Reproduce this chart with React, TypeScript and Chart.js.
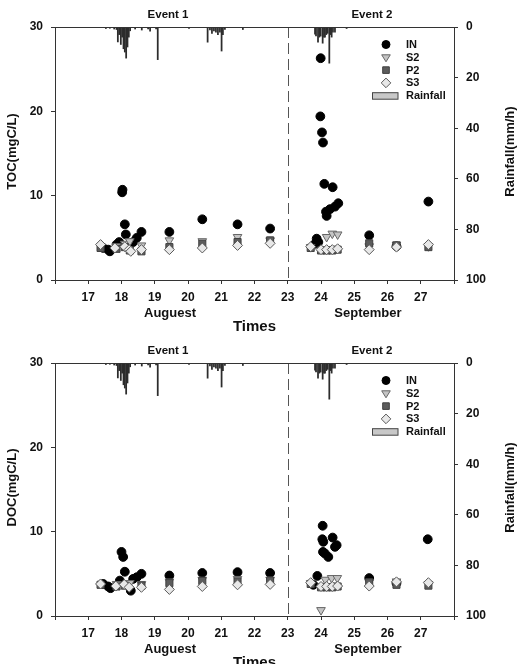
import React, { useEffect, useRef } from 'react';
import { Chart, registerables } from 'chart.js';
Chart.register(...registerables);

const FONT = '"Liberation Sans", Arial, Helvetica, sans-serif';

// Rainfall hyetograph (day, mm/h)
const rainTimes = [17.53, 17.65, 17.78, 17.85, 17.89, 17.93, 17.98, 18.02, 18.06, 18.1, 18.14, 18.18, 18.22, 18.26, 18.41, 18.61, 18.8, 18.86, 19.04, 19.09, 20.03, 20.59, 20.66, 20.72, 20.78, 20.84, 20.9, 20.96, 21.01, 21.05, 21.11, 21.65, 23.82, 23.85, 23.91, 23.95, 23.99, 24.05, 24.09, 24.12, 24.16, 24.2, 24.25, 24.29, 24.32, 24.36, 24.42, 24.77];
const rainValues = [0.6, 0.5, 0.8, 1.0, 5.9, 3.0, 6.9, 4.0, 8.6, 9.9, 12.3, 7.9, 4.0, 1.5, 0.8, 1.2, 0.8, 1.6, 0.8, 12.9, 0.6, 6.0, 1.2, 2.5, 1.5, 2.0, 3.0, 2.0, 9.5, 3.0, 1.0, 1.0, 2.8, 3.5, 6.0, 4.0, 3.6, 6.4, 4.0, 4.0, 3.0, 2.5, 14.3, 3.0, 4.0, 2.0, 2.0, 0.6];

// TOC panel
const tocInT = [17.45, 17.6, 17.65, 17.85, 17.93, 18.03, 18.02, 18.1, 18.13, 18.35, 18.46, 18.6, 19.44, 20.43, 21.49, 22.47, 23.82, 23.87, 23.92, 23.99, 23.98, 24.03, 24.06, 24.1, 24.35, 24.15, 24.17, 24.27, 24.42, 24.52, 25.45, 26.27, 27.23];
const tocInV = [3.8, 3.6, 3.4, 4.2, 4.5, 10.7, 10.4, 6.6, 5.4, 4.5, 5.0, 5.7, 5.7, 7.2, 6.6, 6.1, 4.3, 4.9, 4.5, 26.3, 19.4, 17.5, 16.3, 11.4, 11.0, 8.1, 7.6, 8.4, 8.7, 9.1, 5.3, 4.0, 9.3];
const tocS2T = [17.85, 18.1, 18.25, 18.6, 19.44, 20.43, 21.49, 22.47, 23.69, 24.17, 24.34, 24.5, 25.45, 26.27, 27.23];
const tocS2V = [4.0, 4.3, 4.6, 4.1, 4.7, 4.6, 5.1, 4.7, 3.9, 5.1, 5.5, 5.4, 4.0, 4.2, 4.0];
const tocP2T = [17.37, 17.85, 18.1, 18.25, 18.6, 19.44, 20.43, 21.49, 22.47, 23.69, 24.0, 24.17, 24.34, 24.5, 25.45, 26.27, 27.23];
const tocP2V = [3.8, 3.7, 3.9, 3.5, 3.4, 3.9, 4.3, 4.5, 4.7, 3.8, 3.5, 3.5, 3.5, 3.6, 4.35, 4.1, 3.9];
const tocS3T = [17.37, 17.8, 18.1, 18.23, 18.28, 18.6, 19.44, 20.43, 21.49, 22.47, 23.69, 24.0, 24.17, 24.34, 24.5, 25.45, 26.27, 27.23];
const tocS3V = [4.2, 3.8, 3.95, 3.6, 3.4, 3.6, 3.6, 3.8, 4.1, 4.35, 3.95, 3.6, 3.6, 3.6, 3.7, 3.6, 3.9, 4.2];

// DOC panel
const docInT = [17.45, 17.6, 17.67, 17.95, 18.0, 18.05, 18.1, 18.28, 18.35, 18.46, 18.6, 19.44, 20.43, 21.49, 22.47, 23.77, 23.89, 24.05, 24.35, 24.04, 24.07, 24.47, 24.42, 24.06, 24.12, 24.22, 25.45, 26.27, 27.21];
const docInV = [3.8, 3.5, 3.3, 4.2, 7.6, 7.0, 5.25, 3.0, 4.4, 4.6, 5.0, 4.8, 5.1, 5.2, 5.1, 3.7, 4.75, 10.7, 9.3, 9.1, 8.8, 8.4, 8.2, 7.6, 7.4, 7.0, 4.5, 3.9, 9.1];
const docS2T = [17.85, 18.25, 18.6, 19.44, 20.43, 21.49, 22.47, 23.69, 24.0, 24.13, 24.32, 24.49, 25.45, 26.27, 27.23];
const docS2V = [3.8, 3.9, 3.8, 4.1, 4.3, 4.4, 4.3, 3.9, 0.7, 4.3, 4.5, 4.5, 4.0, 4.1, 3.8];
const docP2T = [17.37, 17.85, 18.1, 18.6, 19.44, 20.43, 21.49, 22.47, 23.69, 24.0, 24.17, 24.34, 24.5, 25.45, 26.27, 27.23];
const docP2V = [3.7, 3.5, 3.6, 3.6, 3.9, 4.15, 4.1, 4.2, 3.8, 3.4, 3.4, 3.4, 3.5, 4.0, 3.7, 3.6];
const docS3T = [17.37, 17.83, 18.08, 18.23, 18.6, 19.44, 20.43, 21.49, 22.47, 23.69, 24.0, 24.17, 24.34, 24.5, 25.45, 26.27, 27.23];
const docS3V = [3.8, 3.55, 3.75, 3.4, 3.4, 3.15, 3.5, 3.7, 3.75, 3.95, 3.5, 3.5, 3.5, 3.55, 3.55, 4.05, 3.95];

const xTicksMin = 16;
const xTicksMax = 28;
const eventLabels = [{ text: 'Event 1', day: 19.4 }, { text: 'Event 2', day: 25.53 }];
const monthLabels = [{ text: 'Auguest', day: 19.46 }, { text: 'September', day: 25.41 }];
const legendItems = ['IN', 'S2', 'P2', 'S3', 'Rainfall'];

const pts = (t: number[], v: number[]) => t.map((x, i) => ({ x, y: v[i] }));

const COLORS = {
  axis: '#333333',
  IN: '#000000',
  S2fill: '#c4c4c4', S2line: '#666666',
  P2fill: '#5c5c5c', P2line: '#404040',
  S3fill: '#e8e8e8', S3line: '#5a5a5a',
  rain: '#2c2c2c',
};

function drawMarker(ctx: CanvasRenderingContext2D, kind: string, x: number, y: number) {
  ctx.save();
  ctx.lineWidth = 1;
  ctx.beginPath();
  if (kind === 'IN') {
    ctx.arc(x, y, 4, 0, Math.PI * 2);
    ctx.fillStyle = COLORS.IN; ctx.strokeStyle = COLORS.IN;
  } else if (kind === 'S2') {
    ctx.moveTo(x - 4.3, y - 2.5); ctx.lineTo(x + 4.3, y - 2.5); ctx.lineTo(x, y + 4.5); ctx.closePath();
    ctx.fillStyle = COLORS.S2fill; ctx.strokeStyle = COLORS.S2line;
  } else if (kind === 'P2') {
    ctx.rect(x - 3.3, y - 3.3, 6.6, 6.6);
    ctx.fillStyle = COLORS.P2fill; ctx.strokeStyle = COLORS.P2line;
  } else if (kind === 'S3') {
    ctx.moveTo(x, y - 4.8); ctx.lineTo(x + 4.8, y); ctx.lineTo(x, y + 4.8); ctx.lineTo(x - 4.8, y); ctx.closePath();
    ctx.fillStyle = COLORS.S3fill; ctx.strokeStyle = COLORS.S3line;
  }
  ctx.fill(); ctx.stroke();
  ctx.restore();
}

function decoPlugin(yTitle: string) {
  return {
    id: 'deco',
    beforeDatasetsDraw(chart: any) {
      const { ctx, chartArea: a, scales } = chart;
      const dx = Math.round(scales.x.getPixelForValue(23)) + 0.5;
      ctx.save();
      ctx.setLineDash([11, 5]);
      ctx.strokeStyle = '#555555';
      ctx.lineWidth = 1;
      ctx.beginPath(); ctx.moveTo(dx, a.top); ctx.lineTo(dx, a.bottom); ctx.stroke();
      ctx.restore();
    },
    afterDraw(chart: any) {
      const { ctx, chartArea: a, scales } = chart;
      const x = scales.x;
      ctx.save();
      ctx.strokeStyle = COLORS.axis; ctx.lineWidth = 1;
      ctx.beginPath(); ctx.moveTo(a.left, a.top + 0.5); ctx.lineTo(a.right, a.top + 0.5); ctx.stroke();

      ctx.fillStyle = '#111111';
      ctx.textAlign = 'center'; ctx.textBaseline = 'middle';
      ctx.font = `bold 11.5px ${FONT}`;
      eventLabels.forEach(e => ctx.fillText(e.text, x.getPixelForValue(e.day), a.top - 12));
      ctx.font = `bold 13px ${FONT}`;
      monthLabels.forEach(m => ctx.fillText(m.text, x.getPixelForValue(m.day), a.bottom + 33));
      ctx.font = `bold 15px ${FONT}`;
      ctx.fillText('Times', (a.left + a.right) / 2, a.bottom + 47);

      // axis titles
      ctx.font = `bold 13px ${FONT}`;
      ctx.save();
      ctx.translate(12, (a.top + a.bottom) / 2 - 2);
      ctx.rotate(-Math.PI / 2);
      ctx.fillText(yTitle, 0, 0);
      ctx.restore();
      ctx.save();
      ctx.translate(510, (a.top + a.bottom) / 2 - 2);
      ctx.rotate(-Math.PI / 2);
      ctx.fillText('Rainfall(mm/h)', 0, 0);
      ctx.restore();

      // legend
      const mx = a.right - 68;
      const tx = a.right - 48;
      ctx.font = `bold 11px ${FONT}`;
      ctx.textAlign = 'left';
      legendItems.forEach((name, i) => {
        const yy = a.top + 17.5 + i * 12.8;
        if (name === 'Rainfall') {
          ctx.fillStyle = '#c8c8c8'; ctx.strokeStyle = '#444444';
          ctx.fillRect(a.right - 81.5, yy - 3, 25.5, 6.5);
          ctx.strokeRect(a.right - 81.5, yy - 3, 25.5, 6.5);
        } else {
          drawMarker(ctx, name, mx, yy);
        }
        ctx.fillStyle = '#111111';
        ctx.fillText(name, tx, yy + 0.5);
      });
      ctx.restore();
    },
  };
}

type PanelProps = {
  yTitle: string;
  inT: number[]; inV: number[];
  s2T: number[]; s2V: number[];
  p2T: number[]; p2V: number[];
  s3T: number[]; s3V: number[];
};

function Panel(p: PanelProps) {
  const ref = useRef<HTMLCanvasElement>(null);
  useEffect(() => {
    if (!ref.current) return;
    const tickFont = { family: FONT, size: 12, weight: 'bold' as const };
    const chart = new Chart(ref.current, {
      type: 'scatter',
      data: {
        datasets: [
          {
            type: 'bar', label: 'Rainfall', data: pts(rainTimes, rainValues) as any,
            xAxisID: 'x', yAxisID: 'y2', backgroundColor: COLORS.rain, borderWidth: 0,
            barThickness: 1.1, grouped: false, order: 5,
          } as any,
          {
            label: 'IN', data: pts(p.inT, p.inV), yAxisID: 'y', pointStyle: 'circle', pointRadius: 4.4,
            backgroundColor: COLORS.IN, borderColor: COLORS.IN, borderWidth: 1, order: 4,
          },
          {
            label: 'S2', data: pts(p.s2T, p.s2V), yAxisID: 'y', pointStyle: 'triangle', rotation: 180, pointRadius: 5,
            backgroundColor: COLORS.S2fill, borderColor: COLORS.S2line, borderWidth: 1, order: 3,
          },
          {
            label: 'P2', data: pts(p.p2T, p.p2V), yAxisID: 'y', pointStyle: 'rect', pointRadius: 5,
            backgroundColor: COLORS.P2fill, borderColor: COLORS.P2line, borderWidth: 1, order: 2,
          },
          {
            label: 'S3', data: pts(p.s3T, p.s3V), yAxisID: 'y', pointStyle: 'rectRot', pointRadius: 5,
            backgroundColor: COLORS.S3fill, borderColor: COLORS.S3line, borderWidth: 1, order: 1,
          },
        ],
      },
      options: {
        animation: false,
        responsive: false,
        devicePixelRatio: 1,
        layout: { padding: { top: 27, left: 0, right: 0, bottom: 0 } },
        plugins: { legend: { display: false }, tooltip: { enabled: false } },
        scales: {
          x: {
            type: 'linear', position: 'bottom', min: xTicksMin, max: xTicksMax, offset: false,
            ticks: {
              stepSize: 1, autoSkip: false, maxRotation: 0, padding: 6, color: '#111111', font: tickFont,
              callback: (v: any) => (v === xTicksMin || v === xTicksMax ? '' : String(v)),
            },
            grid: { drawOnChartArea: false, drawTicks: true, tickLength: 4, color: COLORS.axis, offset: false },
            border: { color: COLORS.axis, width: 1 },
            afterFit: (s: any) => { s.height = 56; },
          },
          y: {
            type: 'linear', position: 'left', min: 0, max: 30,
            ticks: { stepSize: 10, padding: 8, color: '#111111', font: tickFont },
            grid: { drawOnChartArea: false, tickLength: 4, color: COLORS.axis },
            border: { color: COLORS.axis, width: 1 },
            afterFit: (s: any) => { s.width = 55; },
          },
          y2: {
            type: 'linear', position: 'right', min: 0, max: 100, reverse: true,
            ticks: { stepSize: 20, padding: 8, color: '#111111', font: tickFont },
            grid: { drawOnChartArea: false, tickLength: 4, color: COLORS.axis },
            border: { color: COLORS.axis, width: 1 },
            afterFit: (s: any) => { s.width = 69; },
          },
        },
      } as any,
      plugins: [decoPlugin(p.yTitle)],
    });
    return () => chart.destroy();
  }, []);
  return <canvas ref={ref} width={523} height={336} style={{ display: 'block', width: 523, height: 336 }} />;
}

export default function App() {
  return (
    <div style={{ position: 'absolute', left: 0, top: 0, width: 523, height: 664, overflow: 'hidden', background: '#fff' }}>
      <Panel yTitle="TOC(mgC/L)" inT={tocInT} inV={tocInV} s2T={tocS2T} s2V={tocS2V} p2T={tocP2T} p2V={tocP2V} s3T={tocS3T} s3V={tocS3V} />
      <Panel yTitle="DOC(mgC/L)" inT={docInT} inV={docInV} s2T={docS2T} s2V={docS2V} p2T={docP2T} p2V={docP2V} s3T={docS3T} s3V={docS3V} />
    </div>
  );
}
